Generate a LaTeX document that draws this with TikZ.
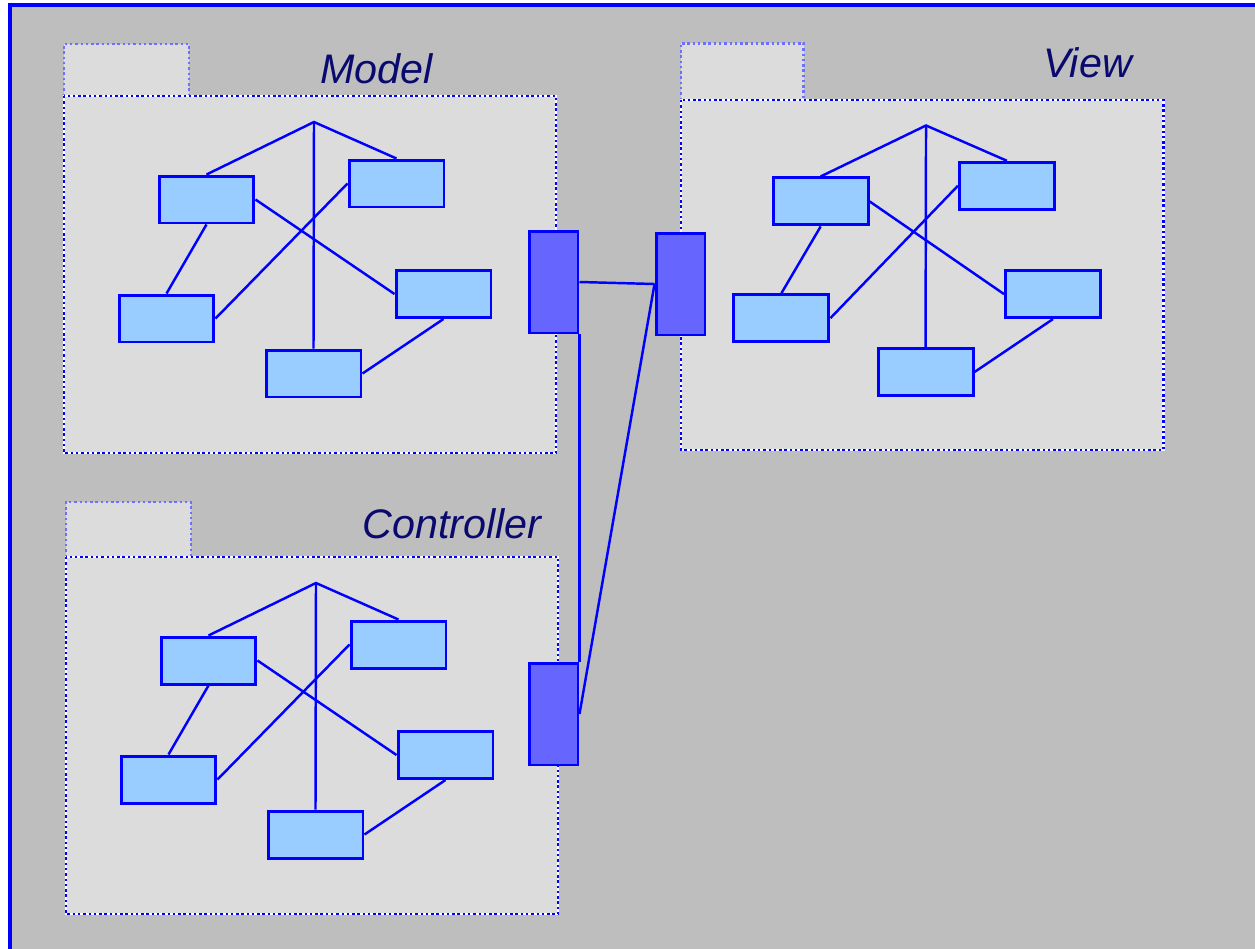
\documentclass[tikz,border=0pt]{standalone}
\usepackage{fontspec}
\setmainfont{Liberation Sans}
\definecolor{frameC}{HTML}{0000FF}
\definecolor{backC}{HTML}{BEBEBE}
\definecolor{pkgC}{HTML}{DCDCDC}
\definecolor{classC}{HTML}{99CCFF}
\definecolor{portC}{HTML}{6666FF}
\definecolor{tabC}{HTML}{6F6FFF}
\definecolor{titleC}{HTML}{0A0A6E}

\tikzset{
  classbox/.style={draw=frameC, fill=classC, line width=1.7pt,
    minimum width=1.9cm, minimum height=0.94cm, inner sep=0pt},
  portbox/.style={draw=frameC, fill=portC, line width=1.7pt,
    minimum width=0.98cm, minimum height=2.04cm, inner sep=0pt},
  link/.style={frameC, line width=1.4pt},
  pkgtitle/.style={text=titleC, font=\fontsize{23.5}{28}\selectfont\itshape,
    anchor=base, inner sep=0pt},
  dots/.style={dash pattern=on 1.4pt off 1.6pt, line width=1.6pt}
}

\begin{document}
\begin{tikzpicture}[
  x=0.02cm,
  y=-0.02cm,
  line join=miter
]

\useasboundingbox (0,0) rectangle (1255,948);

% Frame
\fill[white] (0,0) rectangle (1255,948);
\draw[frameC, fill=backC, line width=2pt] (10,5) rectangle (1275,968);

% Packages with their class graphs
\foreach \pk/\sx/\sy/\u/\th in {M/64/96/0.02cm/52, C/66/557/0.02cm/55, V/681/100/0.0196cm/58}{
\begin{scope}[shift={(\sx,\sy)}, x=\u, y=-\u]
  \draw[tabC, fill=pkgC, dots] (0,0) rectangle (125,-\th);
  \fill[pkgC] (0,0) rectangle (492,357);
  \draw[white, line width=1.6pt] (0,0) rectangle (492,357);
  \draw[frameC, dots] (0,0) rectangle (492,357);

  \coordinate (\pk-hub) at (250,26);
  \node[classbox] (\pk-1) at (142.5,103.5) {};
  \node[classbox] (\pk-2) at (332.5,87.5) {};
  \node[classbox] (\pk-3) at (102.5,222.5) {};
  \node[classbox] (\pk-4) at (379.5,198) {};
  \node[classbox] (\pk-5) at (249.5,277.5) {};

  \draw[link] (\pk-1.north) -- (\pk-hub) -- (\pk-2.north);
  \draw[link] (\pk-hub) -- (\pk-5.north);
  \draw[link] (\pk-1.south) -- (\pk-3.north);
  \draw[link] (\pk-1.east) -- (\pk-4.west);
  \draw[link] (\pk-3.east) -- (\pk-2.west);
  \draw[link] (\pk-5.east) -- (\pk-4.south);
\end{scope}
}

% Titles
\node[pkgtitle] (M-title) at (376.5,83) {Model};
\node[pkgtitle] (V-title) at (1087.5,77) {View};
\node[pkgtitle] (C-title) at (452,538) {Controller};

% Ports and their wiring
\node[portbox] (M-port) at (553.5,282) {};
\node[portbox] (V-port) at (680.5,284) {};
\node[portbox] (C-port) at (553.5,714) {};

\draw[link] (M-port.east) -- (V-port.west);
\draw[link] (M-port.south east) -- (C-port.north east);
\draw[link] (V-port.west) -- (C-port.east);

\end{tikzpicture}
\end{document}
